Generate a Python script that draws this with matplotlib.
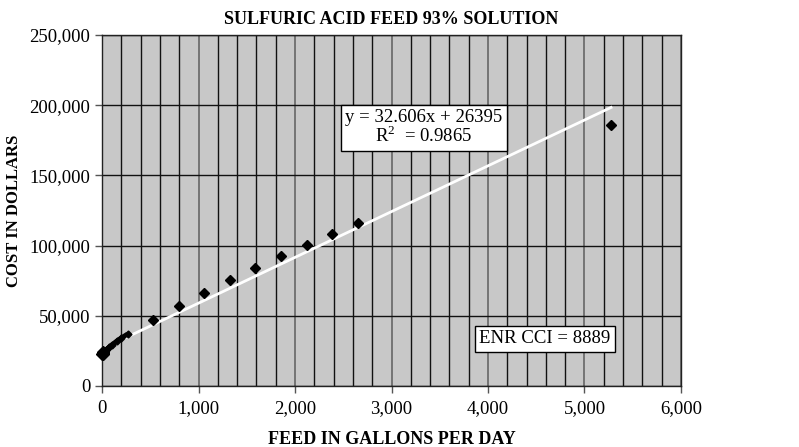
import matplotlib
matplotlib.use("Agg")
import matplotlib.pyplot as plt
from matplotlib.ticker import FuncFormatter, MultipleLocator

plt.rcParams['font.family'] = ['Liberation Serif', 'DejaVu Serif']
plt.rcParams['mathtext.fontset'] = 'custom'
plt.rcParams['mathtext.rm'] = 'Liberation Serif'

# Data
cluster_x = [2, 5, 10, 15, 20, 30, 40, 50, 75, 100, 150, 200, 265]
cluster_y = [22500, 23000, 23500, 24000, 24300, 25000, 25600, 26200, 27700, 29200, 31800, 34200, 37000]
feed_x = [530, 795, 1060, 1325, 1590, 1855, 2120, 2385, 2650, 5275]
cost_y = [47000, 57200, 66500, 75500, 84000, 92600, 100400, 108300, 116100, 185900]
slope = 32.606
intercept = 26395
fit_x = [0, 5275]

title = "SULFURIC ACID FEED 93% SOLUTION"
xlabel = "FEED IN GALLONS PER DAY"
ylabel = "COST IN DOLLARS"
eq_text = "y = 32.606x + 26395\nR$^2$  = 0.9865"
enr_text = "ENR CCI = 8889"

fig = plt.figure(figsize=(7.99, 4.47), dpi=100)
ax = fig.add_axes([0.1277, 0.1365, 0.8523 - 0.1277, 0.9217 - 0.1365])
ax.set_facecolor('#c8c8c8')

ax.set_xlim(0, 6000)
ax.set_ylim(0, 250000)
ax.xaxis.set_major_locator(MultipleLocator(1000))
ax.xaxis.set_minor_locator(MultipleLocator(200))
ax.yaxis.set_major_locator(MultipleLocator(50000))
ax.xaxis.set_major_formatter(FuncFormatter(lambda v, p: f"{int(v):,}"))
ax.yaxis.set_major_formatter(FuncFormatter(lambda v, p: f"{int(v):,}"))

ax.grid(True, which='minor', axis='x', color='#111111', linewidth=1.0)
ax.grid(True, which='major', axis='x', color='#666666', linewidth=1.2)
ax.grid(True, which='major', axis='y', color='#111111', linewidth=1.0)
ax.set_axisbelow(True)
ax.tick_params(which='minor', length=0)
ax.tick_params(which='major', direction='out', length=5, width=1, labelsize=13.5, color='#555555')
ax.tick_params(axis='x', pad=5)
for s in ax.spines.values():
    s.set_color('#222222')
    s.set_linewidth(1.0)

# Fit line
fit_y = [slope * x + intercept for x in fit_x]
ax.plot(fit_x, fit_y, color='white', linewidth=2, zorder=3)

# Data
ax.plot(cluster_x, cluster_y, color='black', linewidth=3.5, solid_capstyle='butt',
        marker='D', markersize=3.5, zorder=4, clip_on=False)
ax.plot(cluster_x[:4], cluster_y[:4], linestyle='none', color='black', marker='D', markersize=6, zorder=4, clip_on=False)
ax.plot(feed_x, cost_y, linestyle='none', color='black', marker='D', markersize=5, zorder=4)

ax.text(3337, 183800, eq_text, ha='center', va='center', fontsize=13.5, linespacing=0.95,
        bbox=dict(boxstyle='square,pad=0.25', facecolor='white', edgecolor='black', linewidth=1), zorder=5)
ax.text(4591, 33500, enr_text, ha='center', va='center', fontsize=13.5,
        bbox=dict(boxstyle='square,pad=0.25', facecolor='white', edgecolor='black', linewidth=1), zorder=5)

ax.set_title(title, fontsize=13, fontweight='bold', pad=8)
ax.set_xlabel(xlabel, fontsize=13, fontweight='bold', labelpad=10)
ax.set_ylabel(ylabel, fontsize=12, fontweight='bold', labelpad=5)

fig.savefig("out.png", dpi=100)
